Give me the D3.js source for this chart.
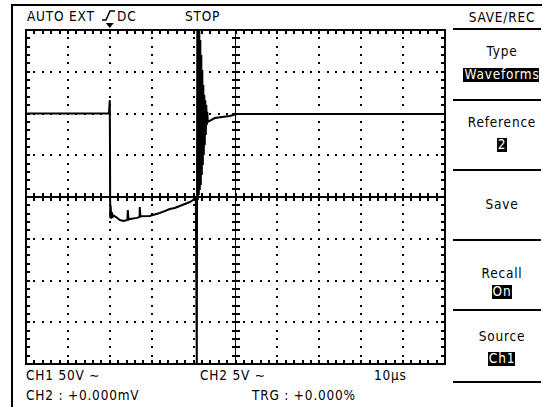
<!DOCTYPE html>
<html>
<head>
<meta charset="utf-8">
<script src="https://cdn.jsdelivr.net/npm/d3@7"></script>
<style>
  html, body { margin: 0; padding: 0; background: #fff; }
  svg text { font-family: "DejaVu Sans Condensed", "DejaVu Sans", sans-serif; font-size: 13.5px; letter-spacing: 0.8px; fill: #000; }
</style>
</head>
<body>
<div id="scope"></div>
<script>
(function() {

    // captured CH1 trace: time in microseconds, voltage in volts
    var timeUs = [-20, -0.5, -0.2, 0, 0.1, 0.2, 0.35, 0.5, 0.6, 0.72, 1.5, 2.4, 3.3, 4.2, 4.3, 4.45, 4.8, 6.5, 7.1, 7.16, 7.3,
        9.5, 11.9, 13.1, 14.3, 15.5, 16.7, 17.9, 19.1, 20.3, 20.53,
        20.76, 20.88, 21.0, 21.12, 21.24, 21.36, 21.48, 21.6, 21.72, 21.84, 21.96, 22.08, 22.2, 22.32, 22.43, 22.55,
        22.67, 22.79, 22.91, 23.03, 23.15, 23.27, 23.39, 25.06, 26.73, 28.64, 30.31, 80];
    var ch1Volts = [100, 100, 100, 116, -25, -10, -26, -18, -25, -21.6, -24, -27.5, -28.7, -27.5, -15.6, -27, -26.3, -25, -24, -12, -23,
        -22.8, -19.2, -17, -14.4, -13.2, -10.8, -8.4, -6, -2.4, -2.4,
        -200, 200, -3.6, 200, 2.4, 200, 8.4, 188, 14.4, 170, 26.3, 152, 38.3, 134, 50.3, 122,
        62.3, 116, 74.3, 110, 86.2, 102, 90, 94.6, 95.8, 97, 99.4, 99.4];

    // status texts
    var topLabels = ["AUTO EXT", "DC", "STOP"];
    var bottomLabels = ["CH1 50V ∼", "CH2 5V ∼", "10µs", "CH2 : +0.000mV", "TRG : +0.000%"];
    var menuTitle = "SAVE/REC";
    var menuNames = ["Type", "Reference", "Save", "Recall", "Source"];
    var menuValues = ["Waveforms", "2", "", "On", "Ch1"];

    var width = 542, height = 407;

    var svg = d3.select("#scope")
        .append("svg")
        .attr("width", width)
        .attr("height", height);

    // screen frame
    svg.append("line").attr("x1", 12).attr("x2", 542).attr("y1", 5).attr("y2", 5)
        .attr("stroke", "#000").attr("stroke-width", 2);
    svg.append("line").attr("x1", 12).attr("x2", 12).attr("y1", 4).attr("y2", 407)
        .attr("stroke", "#000").attr("stroke-width", 2);

    // graticule: 10 x 10us, 8 x 50V
    var x = d3.scaleLinear().domain([-20, 80]).range([26, 445]);
    var y = d3.scaleLinear().domain([-200, 200]).range([364, 30]);

    var g = svg.append("g").attr("shape-rendering", "crispEdges");

    var majorX = d3.range(-20, 81, 10),
        majorY = d3.range(-200, 201, 50),
        minorX = d3.range(-20, 80.01, 2),
        minorY = d3.range(-200, 200.01, 10);

    // dotted lines at each division
    majorX.filter(function(d) { return d > -20 && d < 80 && d !== 30; }).forEach(function(t) {
        g.selectAll(null).data(minorY.slice(1, -1)).enter().append("rect")
            .attr("x", Math.round(x(t)) - 1).attr("y", function(d) { return Math.round(y(d)) - 1; })
            .attr("width", 2).attr("height", 2).attr("fill", "#000");
    });
    majorY.filter(function(d) { return d > -200 && d < 200 && d !== 0; }).forEach(function(v) {
        g.selectAll(null).data(minorX.slice(1, -1)).enter().append("rect")
            .attr("x", function(d) { return Math.round(x(d)) - 1; }).attr("y", Math.round(y(v)) - 1)
            .attr("width", 2).attr("height", 2).attr("fill", "#000");
    });

    // border
    g.append("rect").attr("x", x(-20)).attr("y", y(200))
        .attr("width", x(80) - x(-20)).attr("height", y(-200) - y(200))
        .attr("fill", "none").attr("stroke", "#000").attr("stroke-width", 1.5);

    // border ticks
    g.selectAll(null).data(minorX).enter().append("line")
        .attr("x1", function(d) { return Math.round(x(d)); }).attr("x2", function(d) { return Math.round(x(d)); })
        .attr("y1", y(200)).attr("y2", y(200) + 4)
        .attr("stroke", "#000").attr("stroke-width", 1.5);
    g.selectAll(null).data(minorX).enter().append("line")
        .attr("x1", function(d) { return Math.round(x(d)); }).attr("x2", function(d) { return Math.round(x(d)); })
        .attr("y1", y(-200)).attr("y2", y(-200) - 4)
        .attr("stroke", "#000").attr("stroke-width", 1.5);
    g.selectAll(null).data(minorY).enter().append("line")
        .attr("y1", function(d) { return Math.round(y(d)); }).attr("y2", function(d) { return Math.round(y(d)); })
        .attr("x1", x(-20)).attr("x2", x(-20) + 4)
        .attr("stroke", "#000").attr("stroke-width", 1.5);
    g.selectAll(null).data(minorY).enter().append("line")
        .attr("y1", function(d) { return Math.round(y(d)); }).attr("y2", function(d) { return Math.round(y(d)); })
        .attr("x1", x(80)).attr("x2", x(80) - 4)
        .attr("stroke", "#000").attr("stroke-width", 1.5);

    // centre cross with ticks
    g.append("line").attr("x1", x(-20)).attr("x2", x(80)).attr("y1", y(0)).attr("y2", y(0))
        .attr("stroke", "#000").attr("stroke-width", 1.5);
    g.append("line").attr("x1", x(30)).attr("x2", x(30)).attr("y1", y(200)).attr("y2", y(-200))
        .attr("stroke", "#000").attr("stroke-width", 1.5);
    g.selectAll(null).data(minorX).enter().append("line")
        .attr("x1", function(d) { return Math.round(x(d)); }).attr("x2", function(d) { return Math.round(x(d)); })
        .attr("y1", y(0) - 4).attr("y2", y(0) + 4)
        .attr("stroke", "#000").attr("stroke-width", 1.5);
    g.selectAll(null).data(minorY).enter().append("line")
        .attr("y1", function(d) { return Math.round(y(d)); }).attr("y2", function(d) { return Math.round(y(d)); })
        .attr("x1", x(30) - 4).attr("x2", x(30) + 4)
        .attr("stroke", "#000").attr("stroke-width", 1.5);

    // trigger marker
    svg.append("path")
        .attr("d", "M" + (x(0) - 4) + ",23 L" + (x(0) + 4) + ",23 L" + x(0) + ",28 Z")
        .attr("fill", "#000");

    // trace
    var pts = timeUs.map(function(t, i) { return [t, ch1Volts[i]]; });
    var line = d3.line()
        .x(function(d) { return x(d[0]); })
        .y(function(d) { return y(d[1]); });
    svg.append("path")
        .datum(pts)
        .attr("d", line)
        .attr("fill", "none")
        .attr("stroke", "#000")
        .attr("stroke-width", 2);

    // top status
    svg.append("text").attr("x", 27).attr("y", 21).text(topLabels[0]);
    svg.append("path").attr("d", "M102,20 L106,20 L110,11 L115,11")
        .attr("fill", "none").attr("stroke", "#000").attr("stroke-width", 1.5);
    svg.append("text").attr("x", 117).attr("y", 21).text(topLabels[1]);
    svg.append("text").attr("x", 185).attr("y", 21).text(topLabels[2]);

    // bottom status
    var bottomPos = [[26, 380], [200, 380], [374, 380], [26, 400], [252, 400]];
    bottomLabels.forEach(function(s, i) {
        svg.append("text").attr("x", bottomPos[i][0]).attr("y", bottomPos[i][1]).text(s);
    });

    // menu
    var mx = 502;
    svg.append("text").attr("x", mx).attr("y", 22).attr("text-anchor", "middle").text(menuTitle);
    var seps = [29, 100, 170, 240, 310, 382];
    seps.forEach(function(s) {
        svg.append("line").attr("x1", 453).attr("x2", 541).attr("y1", s).attr("y2", s)
            .attr("stroke", "#000").attr("stroke-width", 2);
    });
    var nameY = [56, 127, 209, 278, 341];
    var valueY = [79, 149, 0, 296, 363];
    menuNames.forEach(function(name, i) {
        svg.append("text").attr("x", mx).attr("y", nameY[i]).attr("text-anchor", "middle").text(name);
        if (menuValues[i]) {
            var t = svg.append("text").attr("x", mx).attr("y", valueY[i]).attr("text-anchor", "middle")
                .style("fill", "#fff").text(menuValues[i]);
            var bb = t.node().getBBox();
            svg.insert("rect", function() { return t.node(); })
                .attr("x", Math.round(bb.x) - 1).attr("y", valueY[i] - 11)
                .attr("width", Math.round(bb.width) + 1).attr("height", 14)
                .attr("fill", "#000");
        }
    });

})();
</script>
</body>
</html>
